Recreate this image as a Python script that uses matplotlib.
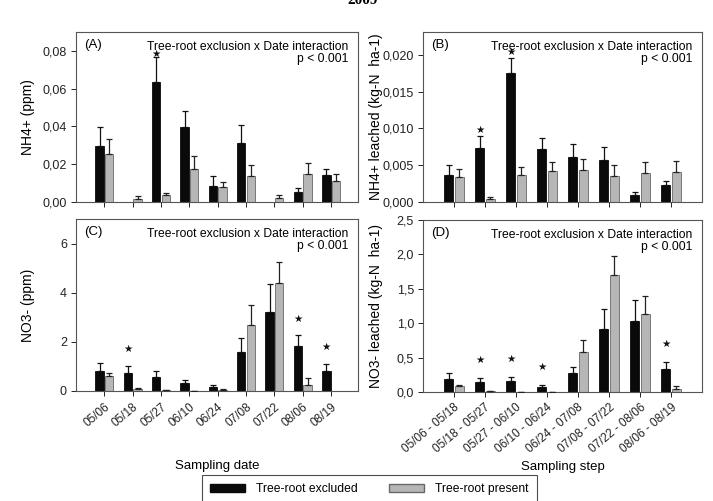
import matplotlib
matplotlib.use("Agg")
import matplotlib.pyplot as plt
from matplotlib.patches import Patch
import numpy as np

plt.rcParams['font.family'] = ['Liberation Sans', 'DejaVu Sans']

dates = ["05/06", "05/18", "05/27", "06/10", "06/24", "07/08", "07/22", "08/06", "08/19"]
steps = ["05/06 - 05/18", "05/18 - 05/27", "05/27 - 06/10", "06/10 - 06/24",
         "06/24 - 07/08", "07/08 - 07/22", "07/22 - 08/06", "08/06 - 08/19"]

# (A) NH4+ ppm
nh4_excl = [0.0296, 0, 0.0637, 0.0396, 0.0087, 0.031, 0, 0.0051, 0.0142]
nh4_excl_se = [0.0099, 0, 0.0133, 0.0087, 0.0051, 0.0097, 0, 0.0025, 0.0035]
nh4_pres = [0.0253, 0.0014, 0.0035, 0.0173, 0.0078, 0.0136, 0.002, 0.0147, 0.0113]
nh4_pres_se = [0.0083, 0.0016, 0.0015, 0.0069, 0.003, 0.006, 0.0017, 0.0062, 0.0034]
nh4_stars = [2]

# (B) NH4+ leached
nh4l_excl = [0.00373, 0.0074, 0.01755, 0.00718, 0.00614, 0.00568, 0.0009, 0.00227]
nh4l_excl_se = [0.00127, 0.00155, 0.00205, 0.0015, 0.00181, 0.00182, 0.0005, 0.00053]
nh4l_pres = [0.00345, 0.00045, 0.00364, 0.00423, 0.0044, 0.00355, 0.004, 0.0041]
nh4l_pres_se = [0.0011, 0.00025, 0.00116, 0.00127, 0.00146, 0.0015, 0.0015, 0.0015]
nh4l_stars = [1, 2]

# (C) NO3- ppm
no3_excl = [0.82, 0.73, 0.55, 0.34, 0.15, 1.6, 3.22, 1.84, 0.82]
no3_excl_se = [0.33, 0.30, 0.25, 0.12, 0.08, 0.55, 1.13, 0.43, 0.29]
no3_pres = [0.59, 0.09, 0.03, 0.01, 0.05, 2.69, 4.39, 0.26, 0.0]
no3_pres_se = [0.15, 0.02, 0, 0, 0.02, 0.82, 0.87, 0.25, 0]
no3_stars = [1, 7, 8]

# (D) NO3- leached
no3l_excl = [0.19, 0.15, 0.155, 0.073, 0.28, 0.91, 1.03, 0.34]
no3l_excl_se = [0.08, 0.06, 0.065, 0.027, 0.09, 0.29, 0.30, 0.09]
no3l_pres = [0.087, 0.01, 0.005, 0.005, 0.58, 1.7, 1.14, 0.04]
no3l_pres_se = [0.02, 0, 0, 0, 0.17, 0.28, 0.25, 0.04]
no3l_stars = [1, 2, 3, 7]

BLACK = '#0a0a0a'
GRAY = '#b6b6b6'
GRAY_EDGE = '#686868'
W = 0.3
OFF = 0.17


def panel(ax, excl, excl_se, pres, pres_se, stars, letter, ylim, yticks, ydec, ylabel, star_off):
    x = np.arange(len(excl))
    excl = np.array(excl)
    pres = np.array(pres)
    ax.bar(x - OFF, excl, W, color=BLACK, edgecolor=BLACK, linewidth=0.6, zorder=2)
    ax.bar(x + OFF, pres, W, color=GRAY, edgecolor=GRAY_EDGE, linewidth=0.6, zorder=2)
    m = excl > 0
    ax.errorbar(x[m] - OFF, excl[m], yerr=[np.zeros(m.sum()), np.array(excl_se)[m]],
                fmt='none', ecolor='#111111', elinewidth=0.9, capsize=2.5, capthick=0.9, zorder=3)
    m = pres > 0
    ax.errorbar(x[m] + OFF, pres[m], yerr=[np.zeros(m.sum()), np.array(pres_se)[m]],
                fmt='none', ecolor='#222222', elinewidth=0.9, capsize=2.5, capthick=0.9, zorder=3)
    for i in stars:
        ax.annotate('\u2605', xy=(x[i] - OFF, excl[i] + excl_se[i]), xytext=(0, star_off),
                    textcoords='offset points', ha='center', va='center', fontsize=7.5,
                    family='DejaVu Sans', color='#111111')
    ax.set_xlim(-1, len(excl) - 0.05 if len(excl) == 9 else len(excl))
    ax.set_ylim(*ylim)
    ax.set_yticks(yticks)
    ax.set_yticklabels([f"{v:.{ydec}f}".replace('.', ',') for v in yticks], fontsize=9)
    ax.set_xticks(x)
    ax.tick_params(axis='both', direction='out', length=3.5, width=0.7, colors='#222222')
    ax.tick_params(axis='y', pad=3)
    for s in ax.spines.values():
        s.set_linewidth(0.8)
        s.set_color('#555555')
    ax.text(0.03, 0.925, letter, transform=ax.transAxes, fontsize=9.5, va='center', ha='left')
    ax.text(0.965, 0.95, "Tree-root exclusion x Date interaction\np < 0.001",
            transform=ax.transAxes, fontsize=8.7, ha='right', va='top', linespacing=1.1,
            multialignment='right')
    ax.set_ylabel(ylabel, fontsize=10, va='center')
    ax.yaxis.set_label_coords(-0.17, 0.5)


fig = plt.figure(figsize=(7.13, 5.01), dpi=100)
axA = fig.add_axes([0.1066, 0.5968, 0.3955, 0.3393])
axB = fig.add_axes([0.5933, 0.5968, 0.3913, 0.3393])
axC = fig.add_axes([0.1066, 0.2196, 0.3955, 0.3433])
axD = fig.add_axes([0.5933, 0.2176, 0.3913, 0.3433])

panel(axA, nh4_excl, nh4_excl_se, nh4_pres, nh4_pres_se, nh4_stars, "(A)",
      (0, 0.09), [0, 0.02, 0.04, 0.06, 0.08], 2, "NH4+ (ppm)", 2)
panel(axB, nh4l_excl, nh4l_excl_se, nh4l_pres, nh4l_pres_se, nh4l_stars, "(B)",
      (0, 0.0231), [0, 0.005, 0.010, 0.015, 0.020], 3, "NH4+ leached (kg-N  ha-1)", 4.5)
panel(axC, no3_excl, no3_excl_se, no3_pres, no3_pres_se, no3_stars, "(C)",
      (0, 7.0), [0, 2, 4, 6], 0, "NO3- (ppm)", 12)
panel(axD, no3l_excl, no3l_excl_se, no3l_pres, no3l_pres_se, no3l_stars, "(D)",
      (0, 2.5), [0, 0.5, 1.0, 1.5, 2.0, 2.5], 1, "NO3- leached (kg-N  ha-1)", 13)

axA.set_xticklabels([])
axB.set_xticklabels([])
axC.set_xticklabels(dates, rotation=40, ha='right', rotation_mode='anchor', fontsize=8.5)
axD.set_xticklabels(steps, rotation=40, ha='right', rotation_mode='anchor', fontsize=8.5)

axC.set_xlabel("Sampling date", fontsize=9.5, va='center')
axC.xaxis.set_label_coords(0.5, -0.436)
axD.set_xlabel("Sampling step", fontsize=9.5, va='center')
axD.xaxis.set_label_coords(0.5, -0.436)

fig.text(0.508, 1.0, "2009", ha='center', va='center', fontsize=11,
         fontweight='bold', family='Liberation Serif')

handles = [Patch(facecolor=BLACK, edgecolor=BLACK), Patch(facecolor=GRAY, edgecolor=GRAY_EDGE)]
leg = fig.legend(handles, ["Tree-root excluded", "Tree-root present"], ncol=2,
                 loc='upper center', bbox_to_anchor=(0.518, 0.052), fontsize=8.7,
                 frameon=True, fancybox=False, edgecolor='#222222', handlelength=2.9,
                 handleheight=0.6, columnspacing=2.6, borderpad=0.7, handletextpad=0.9,
                 borderaxespad=0)
leg.get_frame().set_linewidth(0.8)

fig.savefig("out.png", dpi=100)
